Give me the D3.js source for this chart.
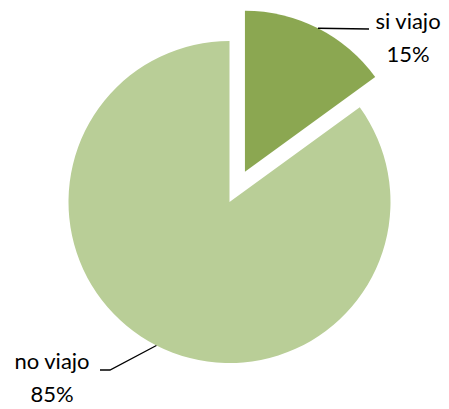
<!DOCTYPE html>
<html lang="es">
<head>
<meta charset="UTF-8">
<title>Viajo</title>
<script src="https://d3js.org/d3.v7.min.js"></script>
<style>
  body { margin: 0; background: #fff; }
  .lbl { font-family: Lato, "Open Sans", sans-serif; font-size: 22px; fill: #000; }
  .leader { fill: none; stroke: #000; stroke-width: 1.3px; }
</style>
</head>
<body>
<script>
// data
var categories = ["si viajo", "no viajo"];
var values = [15, 85];
var pctLabels = ["15%", "85%"];
var colors = ["#8BA751", "#B9CE97"];
var explode = [34, 0];

var width = 449, height = 409;
var cx = 229.5, cy = 202, radius = 161;

var svg = d3.select("body").append("svg")
    .attr("width", width)
    .attr("height", height);

var g = svg.append("g")
    .attr("transform", "translate(" + cx + "," + cy + ")");

var pie = d3.pie().sort(null).value(function(d) { return d; });
var arcs = pie(values);

var arc = d3.arc().innerRadius(0).outerRadius(radius);

function offset(d, i) {
  var a = (d.startAngle + d.endAngle) / 2;
  return [Math.sin(a) * explode[i], -Math.cos(a) * explode[i]];
}

g.selectAll("path.slice")
  .data(arcs)
  .enter().append("path")
    .attr("class", "slice")
    .attr("transform", function(d, i) { var o = offset(d, i); return "translate(" + o[0] + "," + o[1] + ")"; })
    .attr("d", arc)
    .attr("fill", function(d, i) { return colors[i]; });

// label positions (layout)
var labelPos = [
  {x: 408, y: 29, anchor: "middle", end: [[369, 29]]},
  {x: 52, y: 369, anchor: "middle", end: [[110, 370], [100, 370]]}
];

arcs.forEach(function(d, i) {
  var o = offset(d, i);
  var a = (d.startAngle + d.endAngle) / 2;
  var sx = cx + o[0] + Math.sin(a) * radius;
  var sy = cy + o[1] - Math.cos(a) * radius;
  var pts = [[sx, sy]].concat(labelPos[i].end);
  svg.append("path")
    .attr("class", "leader")
    .attr("d", d3.line()(pts));

  var t = svg.append("text")
    .attr("class", "lbl")
    .attr("text-anchor", labelPos[i].anchor);
  t.append("tspan").attr("x", labelPos[i].x).attr("y", labelPos[i].y).text(categories[i]);
  t.append("tspan").attr("x", labelPos[i].x).attr("y", labelPos[i].y + 33).text(pctLabels[i]);
});
</script>
</body>
</html>
